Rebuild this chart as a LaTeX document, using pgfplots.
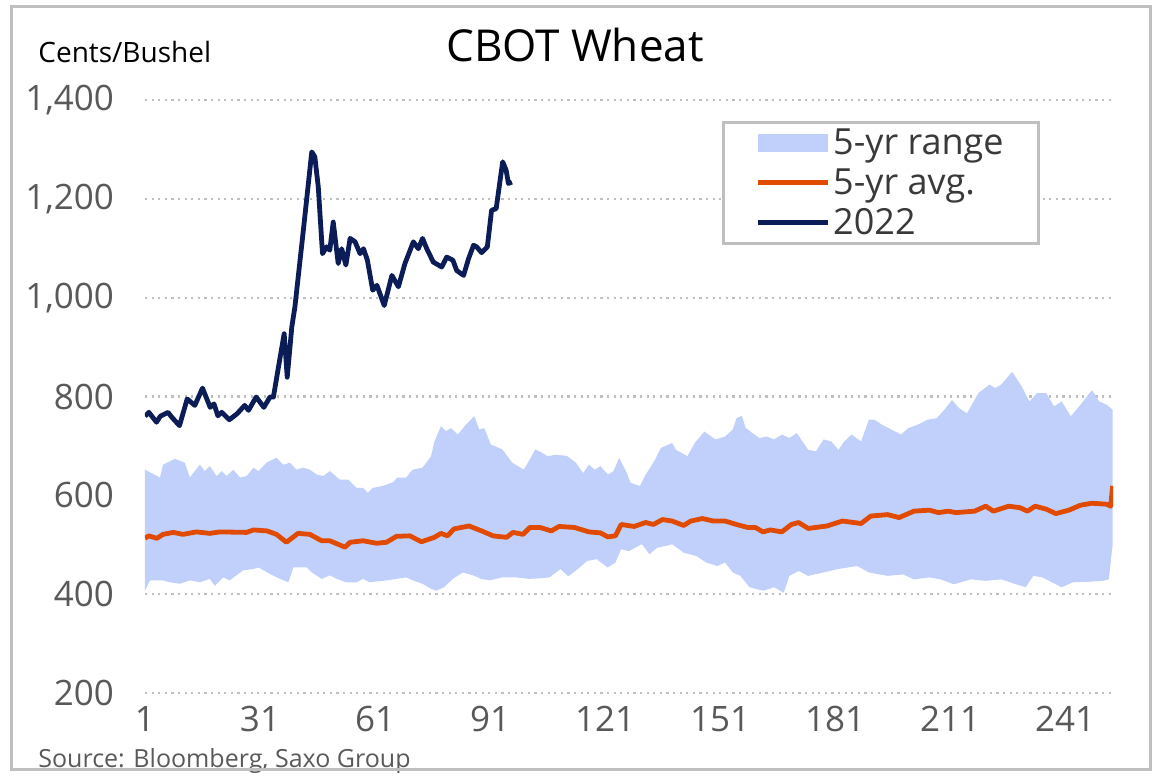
\documentclass[border=0pt]{standalone}
\usepackage{fontspec}
\setmainfont{Open Sans}
\usepackage{pgfplots}
\pgfplotsset{compat=1.18}
\usepgfplotslibrary{fillbetween}

\definecolor{band}{HTML}{C0D0FA}
\definecolor{avgc}{HTML}{E04B00}
\definecolor{navy}{HTML}{0B1C56}
\definecolor{txt}{HTML}{595959}
\definecolor{frame}{HTML}{BFBFBF}

\begin{document}
\begin{tikzpicture}
\begin{axis}[
    at={(0pt,0pt)}, anchor=south west,
    scale only axis,
    width=484pt, height=296.5pt,
    xmin=1, xmax=253.5,
    ymin=200, ymax=1400,
    xtick={1,31,...,241},
    ytick={200,400,...,1400},
    axis line style={draw=none},
    tick style={draw=none},
    ymajorgrids=true,
    grid style={frame, line width=1.1pt, dash pattern=on 1.1pt off 2.2pt},
    /pgf/number format/assume math mode=true,
    /pgf/number format/1000 sep={,},
    ticklabel style={font=\fontsize{17.5}{20}\selectfont, text=txt},
    yticklabel style={xshift=-12pt},
    xticklabel style={yshift=-3pt},
    legend style={at={(0.596,0.964)}, anchor=north west,
        draw=frame, line width=1.5pt,
        font=\fontsize{18}{20}\selectfont, text=darkgray!90!black,
        inner xsep=16pt, inner ysep=1.5pt, row sep=2.5pt,
        nodes={inner sep=1.5pt}},
    legend cell align=left,
    legend image code/.code={\draw[#1, line width=2.4pt] (0pt,0pt) -- (35pt,0pt);},
]

% 5-yr range, upper edge
\addplot[draw=none, name path=up, forget plot] coordinates {
(1,652)(4.9,636)(5.7,662)(8.8,674)(11.4,666)(12.7,636)(15.3,662)(16.6,649)(17.9,659)(19.7,639)
(21,649)(22.3,639)(24,652)(25.8,636)(27.5,639)(29.3,656)(30.6,649)(32.8,667)(35.3,676)(37.1,662)
(38.8,666)(40.5,652)(42.3,656)(44,652)(45.8,642)(47.5,639)(49.2,649)(51.8,632)(54,632)(56.2,615)
(57.9,615)(59.1,605)(60.4,615)(63,619)(65.6,626)(66.9,636)(69.1,636)(70.8,652)(73.4,656)(75.6,679)
(76.5,709)(78.2,740)(79.5,730)(80.8,736)(82.6,723)(84.7,743)(86.9,760)(88.2,733)(89.5,736)(91.2,703)
(94.2,693)(96.8,666)(99.8,652)(101.1,669)(102.8,693)(104.6,686)(106,679)(108,682)(111,680)(113.4,666)
(115.3,645)(116.8,662)(118.3,652)(119.8,659)(121.7,642)(123.2,649)(124.7,676)(126.7,645)(127.7,625)(130.1,619)
(131.6,642)(133.6,666)(135.6,696)(138.5,706)(139.5,692)(142.5,679)(144.4,706)(146.9,729)(149.8,713)(152.3,719)
(154.3,733)(155.3,756)(156.7,761)(157.7,736)(161.2,716)(163.2,719)(165.1,713)(167.1,723)(169.1,716)(171,726)
(174,692)(176,689)(178,713)(180,709)(181.9,692)(183.4,709)(185.3,723)(187.8,709)(189.8,753)(191.3,753)
(193.2,743)(195.7,733)(198.2,723)(200.1,736)(202.6,743)(205.1,753)(207.5,756)(209.5,773)(211.5,793)(213.4,776)
(215.4,766)(218.4,807)(221.3,824)(222.8,817)(224.3,824)(227.2,850)(229.7,820)(231.7,790)(233.7,807)(236.1,807)
(238.1,780)(240.1,790)(242.5,760)(245,783)(248,813)(249.9,790)(251.9,783)(253.4,773)
};
% 5-yr range, lower edge
\addplot[draw=none, name path=lo, forget plot] coordinates {
(1,407)(2.3,428)(5.7,428)(7.5,424)(10.1,421)(12.7,428)(15.3,424)(17.9,431)(19.2,417)(21.4,434)
(23.1,428)(26.6,448)(29.3,451)(30.6,454)(33.6,441)(36.2,431)(38.4,424)(39.7,454)(43.2,454)(44.5,444)
(47.1,431)(49.2,438)(51,431)(53.5,424)(56.2,424)(57.9,431)(59.6,424)(64,428)(66.6,431)(69.1,434)
(70.8,428)(73.4,421)(75.6,411)(76.9,407)(79,414)(81.3,431)(83.9,444)(86.6,438)(88.7,431)(90.9,428)
(94.2,434)(97.7,434)(101.1,431)(104,432)(106.5,434)(109.4,451)(111.4,436)(113.9,451)(116.3,467)(118.8,471)
(121.7,454)(123.7,464)(125.2,491)(127.2,487)(130.6,501)(132.6,481)(134.6,494)(137,498)(138.5,501)(141.5,484)
(144.9,477)(147.4,464)(150.3,457)(152.3,464)(154.3,444)(156.3,437)(158.7,414)(162.2,407)(165.1,414)(167.6,403)
(169.1,437)(171.5,447)(174,437)(178,444)(181.9,451)(186.8,457)(189.8,444)(194.7,437)(198.7,440)(201.6,430)
(205.6,434)(208.5,430)(212,420)(216.4,430)(220.3,427)(224.3,430)(228.2,420)(230.7,414)(232.7,437)(235.1,434)
(240.1,414)(243,424)(247,425)(250.9,427)(252.4,430)(253.4,500)
};
\addplot[fill=band, draw=none,
    legend image code/.code={\fill[band] (0pt,-4.5pt) rectangle (35pt,4.5pt);}]
    fill between[of=up and lo];
\addlegendentry{5-yr range}

% 5-yr average
\addplot[avgc, line width=2.4pt, line join=round] coordinates {
(1,513)(2,518)(4.1,513)(5.7,521)(8.4,525)(10.9,521)(14.4,526)(17.9,523)(20.5,526)(27.5,525)
(29.3,530)(32.8,528)(35.3,521)(37.9,505)(40.9,523)(44,521)(47.1,508)(49.2,508)(53.2,495)(54.5,505)
(57.9,508)(61.4,503)(64,505)(66.6,517)(70.1,518)(73.1,506)(76.5,515)(78.2,523)(79.9,518)(81.6,532)
(85.5,538)(88.8,528)(91.8,518)(95.3,515)(97,525)(99.6,521)(101.4,535)(104,535)(107,528)(109,537)
(113,535)(116.8,526)(119.8,524)(121.7,516)(123.7,518)(125.2,541)(128.6,537)(131.6,545)(133.6,541)(136,551)
(138.5,548)(141.5,539)(143.4,548)(146.4,553)(149.3,548)(152.3,548)(155.3,541)(158.2,535)(160.2,535)(162.2,526)
(164.1,530)(167.1,526)(169.6,541)(171.5,545)(174,533)(178.9,538)(182.9,548)(187.8,543)(190.3,558)(194.7,561)
(197.7,555)(201.6,568)(205.6,570)(208,565)(210.5,568)(212.5,565)(217.4,568)(220.3,578)(222.3,568)(226.3,578)
(229.2,575)(231.2,568)(233.2,578)(236.1,572)(238.6,563)(242,570)(245,580)(248,584)(251.9,582)(252.9,578)
(253.4,619)
};
\addlegendentry{5-yr avg.}

% 2022
\addplot[navy, line width=2.4pt, line join=round] coordinates {
(1,760)(2,768)(4,748)(5,760)(7,768)(8,758)(10,741)(12,795)(14,782)(16,817)
(18,778)(19,785)(20,761)(21,768)(23,753)(25,765)(27,782)(28,772)(30,799)(32,778)
(33.6,799)(34.5,799)(35.8,859)(37.3,927)(38.1,839)(39.3,941)(40.1,981)(42.3,1136)(44.5,1295)(45.3,1285)
(46.2,1224)(47.3,1089)(48.4,1103)(49.2,1096)(50.1,1153)(51.4,1069)(52.3,1099)(53.4,1066)(54.5,1120)(55.8,1113)
(57.1,1089)(58,1099)(59,1076)(60.4,1015)(61.5,1025)(63.4,984)(65.4,1045)(67.1,1022)(68.8,1069)(71,1113)
(72.3,1099)(73.4,1120)(74.5,1099)(76.2,1072)(78.4,1062)(79.7,1082)(81.3,1076)(82.3,1055)(84.1,1045)(85.4,1079)
(86.7,1106)(87.5,1103)(88.8,1091)(90.3,1103)(91.4,1177)(92.6,1180)(94.3,1275)(95.2,1258)(95.8,1231)(96.7,1234)
};
\addlegendentry{2022}
\end{axis}

\node[font=\fontsize{22}{26}\selectfont] at (215pt,324pt) {CBOT Wheat};
\node[anchor=west, font=\fontsize{14}{16}\selectfont, inner sep=0pt] at (-53.5pt,320.5pt) {Cents/Bushel};
\node[anchor=west, font=\fontsize{12.5}{15}\selectfont, text=txt, inner sep=0pt] at (-53.5pt,-34pt) {Source: Bloomberg, Saxo Group};
\draw[frame, line width=1.5pt] (-66.5pt,-38.5pt) rectangle (502.5pt,343pt);
\path (-72.5pt,-41.5pt) rectangle (503.5pt,346.5pt);
\end{tikzpicture}
\end{document}
